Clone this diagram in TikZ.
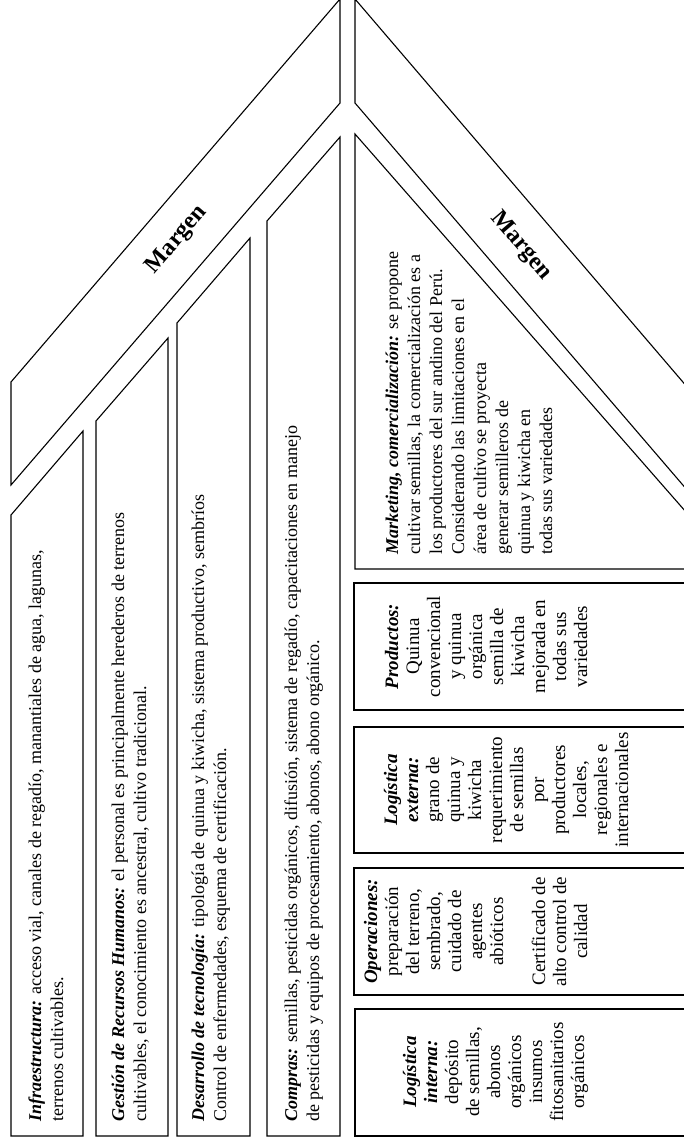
\documentclass[tikz,border=0pt]{standalone}
\usepackage{fontspec}
\setmainfont{Liberation Serif}
\usetikzlibrary{positioning}
\newcommand{\actname}[1]{\textbf{\textit{#1}}}
\newcommand{\lnstrut}{\rule{0pt}{14pt}}
\tikzset{
    chain/.style={draw=black, line width=1.1pt, line join=miter},
    supp/.style={rotate=90, anchor=north west, align=left, inner sep=0pt,
        font=\fontsize{18}{22}\selectfont},
    prim/.style={rotate=90, anchor=north, align=center, inner sep=0pt,
        font=\fontsize{19}{21}\selectfont},
    margin/.style={inner sep=0pt, font=\fontsize{24}{28}\selectfont\bfseries}
}
\begin{document}
\begin{tikzpicture}[x=1pt, y=-1pt]
    \useasboundingbox (0, 0) rectangle (684, 1142);
    \clip (0, 0) rectangle (684, 1142);
    \begin{scope}
        % Margen (support side)
        \draw[chain] (11, 382) -- (340, -1) -- (340, 103) -- (11, 485) -- cycle;
        \node[margin, rotate=49.3] (M1) at (177, 240) {Margen};
        % Support activities
        \draw[chain] (11, 1136) -- (11, 515) -- (83, 431) -- (83, 1136) -- cycle;
        \draw[chain] (96, 1136) -- (96, 421) -- (168, 338) -- (168, 1136) -- cycle;
        \draw[chain] (177, 1136) -- (177, 323) -- (250, 238) -- (250, 1136) -- cycle;
        \draw[chain] (267, 1136) -- (267, 221) -- (340, 137) -- (340, 1136) -- cycle;
        \node[supp] (infra) at (27, 1122) {\lnstrut\actname{Infraestructura:} acceso vial, canales de regadío, manantiales de agua, lagunas,\\
            terrenos cultivables.};
        \node[supp] (rrhh) at (110, 1122) {\lnstrut\actname{Gestión de Recursos Humanos:} el personal es principalmente herederos de terrenos\\
            cultivables, el conocimiento es ancestral, cultivo tradicional.};
        \node[supp] (tecno) at (190, 1122) {\lnstrut\actname{Desarrollo de tecnología:} tipología de quinua y kiwicha, sistema productivo, sembríos\\
            Control de enfermedades, esquema de certificación.};
        \node[supp] (compras) at (283, 1122) {\lnstrut\actname{Compras:} semillas, pesticidas orgánicos, difusión, sistema de regadío, capacitaciones en manejo\\
            de pesticidas y equipos de procesamiento, abonos, abono orgánico.};
    \end{scope}
    \begin{scope}
        % Margen (primary side)
        \draw[chain] (355, -1) -- (700, 402) -- (700, 505) -- (355, 103) -- cycle;
        \node[margin, rotate=-49.3] (M2) at (521, 246) {Margen};
        % Primary activities
        \draw[chain] (355, 134) -- (355, 569) -- (700, 569) -- (700, 528) -- cycle;
        \draw[chain] (354, 583) rectangle (700, 710);
        \draw[chain] (354, 727) rectangle (700, 853);
        \draw[chain] (354, 868) rectangle (700, 995);
        \draw[chain] (355, 1009) rectangle (700, 1136);
        \node[supp] (mkt) at (384, 555) {\lnstrut\actname{Marketing, comercialización:} se propone\\
            cultivar semillas, la comercialización es a\\
            los productores del sur andino del Perú.\\
            Considerando las limitaciones en el\\
            área de cultivo se proyecta\\
            generar semilleros de\\
            quinua y kiwicha en\\
            todas sus variedades};
        \node[prim] (prod) at (384, 646.5) {\lnstrut\actname{Productos:}\\ Quinua\\ convencional\\ y quinua\\ orgánica\\
            semilla de\\ kiwicha\\ mejorada en\\ todas sus\\ variedades};
        \node[prim] (logext) at (383, 790) {\lnstrut\actname{Logística}\\ \actname{externa:}\\ grano de\\ quinua y\\ kiwicha\\
            requerimiento\\ de semillas\\ por\\ productores\\ locales,\\ regionales e\\ internacionales};
        \node[prim] (oper) at (363, 931.5) {\lnstrut\actname{Operaciones:}\\ preparación\\ del terreno,\\ sembrado,\\ cuidado de\\
            agentes\\ abióticos\\[21pt] Certificado de\\ alto control de\\ calidad};
        \node[prim] (logint) at (402, 1072) {\lnstrut\actname{Logística}\\ \actname{interna:}\\ depósito\\ de semillas,\\ abonos\\
            orgánicos\\ insumos\\ fitosanitarios\\ orgánicos};
    \end{scope}
\end{tikzpicture}
\end{document}
